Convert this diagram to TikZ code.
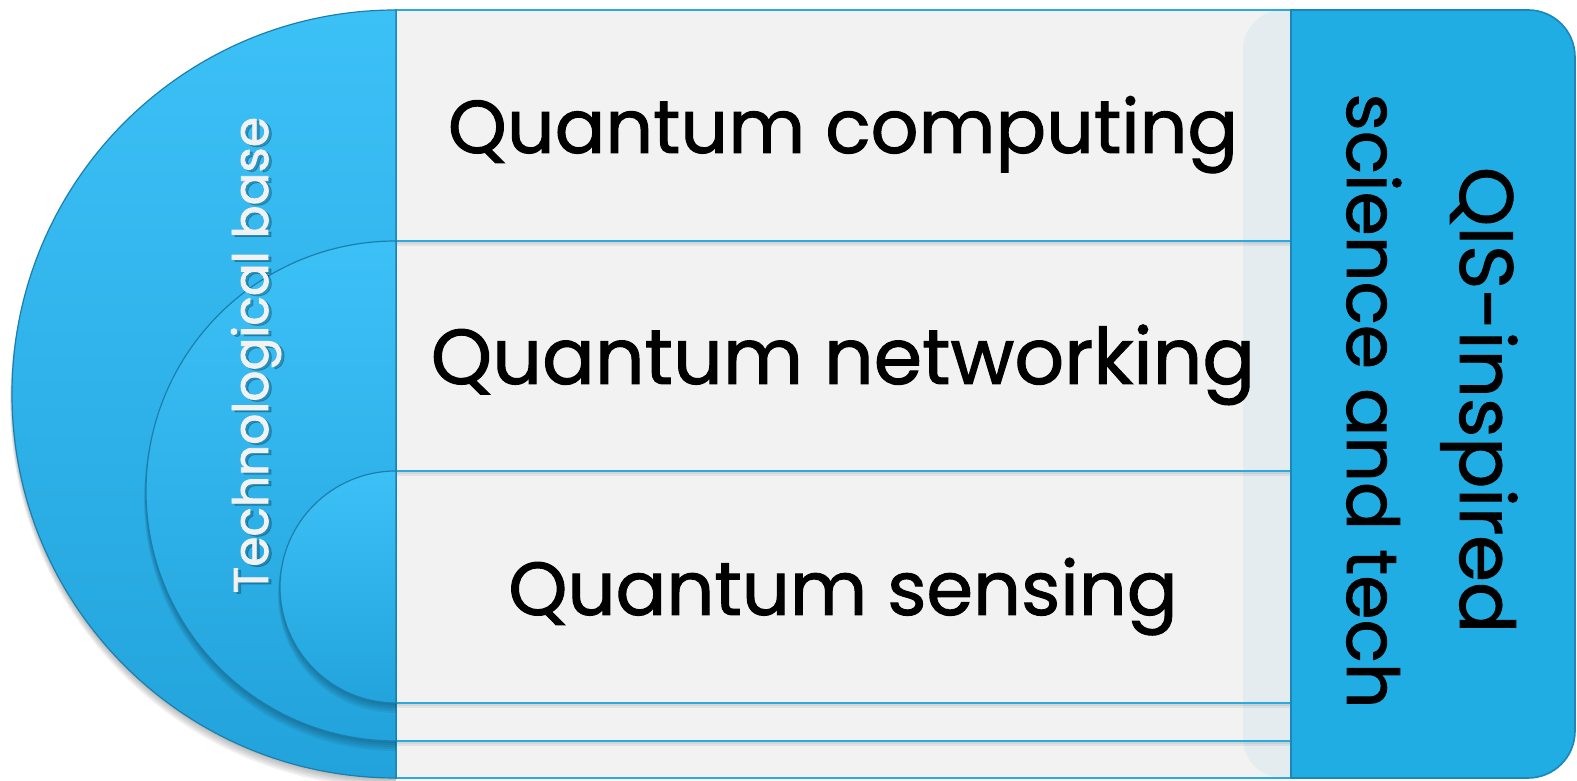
\documentclass[tikz,border=0pt]{standalone}
\usepackage{fontspec}
\setmainfont{Poppins}
\newfontfamily\heavyfont{Poppins}[FakeBold=1.3]
\newfontfamily\basefont{Poppins}[FakeBold=1.6]
\usepackage{graphicx}
\definecolor{semitop}{HTML}{3CC1F7}
\definecolor{semibot}{HTML}{22A3DB}
\definecolor{semiedge}{HTML}{1B7FAE}
\definecolor{rowfill}{HTML}{F2F2F2}
\definecolor{rowedge}{HTML}{2AAAE1}
\definecolor{boxfill}{HTML}{1FADE3}
\definecolor{boxedge}{HTML}{1A87B7}
\definecolor{ghost}{HTML}{E4ECF0}
\definecolor{basetext}{HTML}{F2F2F2}
\tikzset{
  semi/.style={top color=semitop, bottom color=semibot, draw=semiedge, line width=1.2pt},
  semishadow/.style={fill=black, opacity=0.055},
  rowbox/.style={draw=rowedge, line width=1.6pt},
  rowtext/.style={anchor=base, inner sep=0pt, text=black, font=\heavyfont},
  sidetext/.style={anchor=base, inner sep=0pt, text=black, font=\heavyfont},
}
\begin{document}
\begin{tikzpicture}[x=1pt,y=1pt]
\useasboundingbox (0,0) rectangle (1577,781);
\fill[white] (0,0) rectangle (1577,781);
% rows
\fill[rowfill] (396,3) rectangle (1291,771);
% ghost of right box
\fill[ghost] (1291,771) -- (1283,771) arc (90:180:40) -- (1243,43) arc (180:270:40) -- (1291,3) -- cycle;
% row shadows
\foreach \yy in {540,310,78,40}{
  \fill[black, opacity=0.06] (396,\yy-1) rectangle (1291,\yy-5);
  \fill[black, opacity=0.06] (396,\yy-1) rectangle (1291,\yy-3);
}
\draw[rowbox] (396,540) rectangle (1291,771);
\draw[rowbox] (396,310) rectangle (1291,540);
\draw[rowbox] (396,78) rectangle (1291,310);
\draw[rowbox] (396,40) rectangle (1291,78);
\draw[rowbox] (396,3) rectangle (1291,40);
% right box
\filldraw[fill=boxfill, draw=boxedge, line width=1.6pt]
  (1291,771) -- (1528,771) arc (90:0:47) -- (1575,50) arc (0:-90:47) -- (1291,3) -- cycle;
% semicircles
\foreach \s in {1,...,5}{
  \fill[semishadow] (396,771-1.2*\s) arc (90:270:384+0.4*\s) -- cycle;
}
\path[semi] (396,771) arc (90:270:384) -- cycle;
\foreach \s in {1,...,5}{
  \fill[semishadow] (396,540-1.2*\s) arc (90:270:250+0.4*\s) -- cycle;
}
\path[semi] (396,540) arc (90:270:250) -- cycle;
\foreach \s in {1,...,5}{
  \fill[semishadow] (396,310-1.2*\s) arc (90:270:116+0.4*\s) -- cycle;
}
\path[semi] (396,310) arc (90:270:116) -- cycle;
% texts
\node[rowtext] (qc) at (843,628) {\resizebox{790pt}{!}{Quantum computing}};
\node[rowtext] (qn) at (843,397) {\resizebox{824pt}{!}{Quantum networking}};
\node[rowtext] (qs) at (843,166) {\resizebox{669pt}{!}{Quantum sensing}};
\node[anchor=base, inner sep=0pt, rotate=90, text=black, opacity=0.22, font=\basefont] at (271,424) {\resizebox{476pt}{!}{Technological base}};
\node[anchor=base, inner sep=0pt, rotate=90, text=basetext, font=\basefont] (tb) at (268,426) {\resizebox{476pt}{!}{Technological base}};
\node[sidetext, rotate=-90] (qis) at (1460,381) {\resizebox{466pt}{!}{QIS-inspired}};
\node[sidetext, rotate=-90] (sci) at (1347,380) {\resizebox{615pt}{!}{science and tech}};
\end{tikzpicture}
\end{document}
